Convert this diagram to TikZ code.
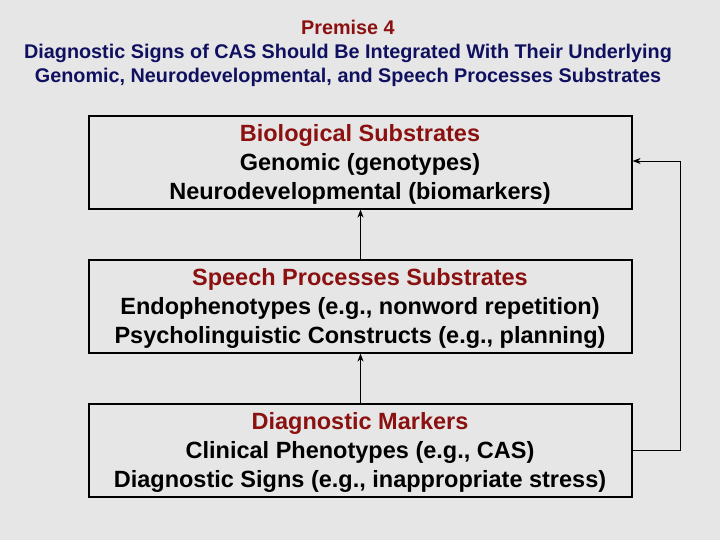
\documentclass[tikz,border=0pt]{standalone}
\usepackage{fontspec}
\setmainfont{Liberation Sans}
\usetikzlibrary{arrows.meta}
\definecolor{bg}{HTML}{E6E6E6}
\definecolor{dred}{HTML}{8B1010}
\definecolor{navy}{HTML}{101060}
\begin{document}
\begin{tikzpicture}[x=1pt,y=-1pt,
  box/.style={draw=black,line width=1.2pt,fill=bg,minimum width=543pt,minimum height=93pt,inner sep=0pt,align=center,font=\bfseries\fontsize{23.5}{29}\selectfont},
  txt/.style={align=center,font=\bfseries\fontsize{23.5}{29}\selectfont,inner sep=0pt},
  arr/.style={-{Stealth[length=8pt,width=6pt]},line width=0.8pt}]
\fill[bg] (0,0) rectangle (720,540);
\useasboundingbox (0,0) rectangle (720,540);
\node[align=center,font=\bfseries\fontsize{19.8}{24}\selectfont] (t) at (348,53)
 {\textcolor{dred}{Premise 4}\\\textcolor{navy}{Diagnostic Signs of CAS Should Be Integrated With Their Underlying}\\\textcolor{navy}{Genomic, Neurodevelopmental, and Speech Processes Substrates}};
\node[box] (b1) at (360.5,162.5) {};
\node[box] (b2) at (360.5,306.5) {};
\node[box] (b3) at (360.5,450.5) {};
\node[txt] (t1) at (360,164.5) {\textcolor{dred}{Biological Substrates}\\Genomic (genotypes)\\Neurodevelopmental (biomarkers)};
\node[txt] (t2) at (360,308.5) {\textcolor{dred}{Speech Processes Substrates}\\Endophenotypes (e.g., nonword repetition)\\Psycholinguistic Constructs (e.g., planning)};
\node[txt] (t3) at (360,452.5) {\textcolor{dred}{Diagnostic Markers}\\Clinical Phenotypes (e.g., CAS)\\Diagnostic Signs (e.g., inappropriate stress)};
\draw[arr] (b2.north) -- (b1.south);
\draw[arr] (b3.north) -- (b2.south);
\coordinate (c1) at (680,450.5);
\coordinate (c2) at (680,161);
\draw[arr] (b3.east) -- (c1) -- (c2) -- (b1.east |- c2);
\end{tikzpicture}
\end{document}
